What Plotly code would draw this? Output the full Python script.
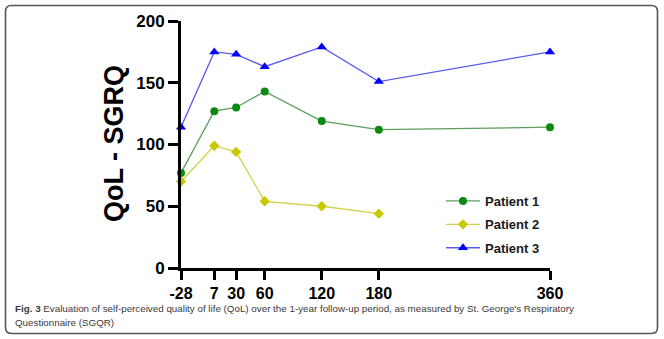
import plotly.graph_objects as go

days = [-28, 7, 30, 60, 120, 180, 360]
tick_labels = ["-28", "7", "30", "60", "120", "180", "360"]
patient1 = [77, 127, 130, 143, 119, 112, 114]
patient2 = [70, 99, 94, 54, 50, 44]
patient3 = [114, 175, 173, 163, 179, 151, 175]

W, H = 664, 339
L, R, T, B = 181, 114, 21, 71
pw, ph = W - L - R, H - T - B


def px(x):
    return (x - L) / pw


def py(y):
    return (H - B - y) / ph


fig = go.Figure()
fig.add_trace(go.Scatter(
    x=days, y=patient1, name="Patient 1", mode="lines+markers", legendgroup="p1",
    line=dict(color="#5c9e5c", width=1.3),
    marker=dict(symbol="circle", size=8, color="#0b8a12"),
    cliponaxis=False))
fig.add_trace(go.Scatter(
    x=days[:len(patient2)], y=patient2, name="Patient 2", mode="lines+markers", legendgroup="p2",
    line=dict(color="#d2d24a", width=1.3),
    marker=dict(symbol="diamond", size=8, color="#c8c800"),
    cliponaxis=False))
fig.add_trace(go.Scatter(
    x=days, y=patient3, name="Patient 3", mode="lines+markers", legendgroup="p3",
    line=dict(color="#5a5af0", width=1.3),
    marker=dict(symbol="triangle-up", size=9, color="#0000ff"),
    cliponaxis=False))

FONT = "Liberation Sans"
axis_font = dict(family=FONT, size=16, color="black", weight="bold")
fig.update_xaxes(range=[-28, 360], tickvals=days, ticktext=tick_labels,
                 showline=True, linewidth=3, linecolor="black", ticks="outside",
                 ticklen=9, tickwidth=3, tickcolor="black", showgrid=False,
                 zeroline=False, tickfont=axis_font)
fig.update_yaxes(range=[0, 200], tickvals=[0, 50, 100, 150, 200],
                 showline=True, linewidth=3, linecolor="black", ticks="outside",
                 ticklen=10, tickwidth=3, tickcolor="black", showgrid=False,
                 zeroline=False, tickfont=dict(axis_font, size=17))

cap_font = dict(family=FONT, size=9.8, color="#3a3a3a")
annotations = [
    dict(text="QoL - SGRQ", textangle=-90, x=px(113.6), y=py(143.5),
         xref="paper", yref="paper", showarrow=False, xanchor="center", yanchor="middle",
         font=dict(family=FONT, size=27, color="black", weight="bold")),
    dict(text="<b>Fig. 3</b> Evaluation of self-perceived quality of life (QoL) over the 1-year follow-up period, as measured by St. George's Respiratory",
         x=px(12.5), y=py(308.5), xref="paper", yref="paper", showarrow=False,
         xanchor="left", yanchor="middle", font=cap_font),
    dict(text="Questionnaire (SGQR)",
         x=px(12.5), y=py(322.7), xref="paper", yref="paper", showarrow=False,
         xanchor="left", yanchor="middle", font=cap_font),
]

x0, x1, y0, y1, r = px(5.5), px(657.5), py(5.5), py(333.5), 6
rx, ry = r / pw, r / ph
path = (f"M {x0+rx},{y0} L {x1-rx},{y0} Q {x1},{y0} {x1},{y0-ry} "
        f"L {x1},{y1+ry} Q {x1},{y1} {x1-rx},{y1} L {x0+rx},{y1} "
        f"Q {x0},{y1} {x0},{y1+ry} L {x0},{y0-ry} Q {x0},{y0} {x0+rx},{y0} Z")

fig.update_layout(
    width=W, height=H, margin=dict(l=L, r=R, t=T, b=B, pad=0),
    paper_bgcolor="white", plot_bgcolor="white",
    showlegend=True,
    legend=dict(x=px(441), y=py(186), xanchor="left", yanchor="top",
                bgcolor="rgba(0,0,0,0)", tracegroupgap=3.5, itemwidth=34,
                font=dict(family=FONT, size=13, color="#1a1a1a", weight="bold")),
    annotations=annotations,
    shapes=[dict(type="path", path=path, xref="paper", yref="paper",
                 line=dict(color="#555555", width=1.6), layer="below")],
)

fig.write_html("out.html")
